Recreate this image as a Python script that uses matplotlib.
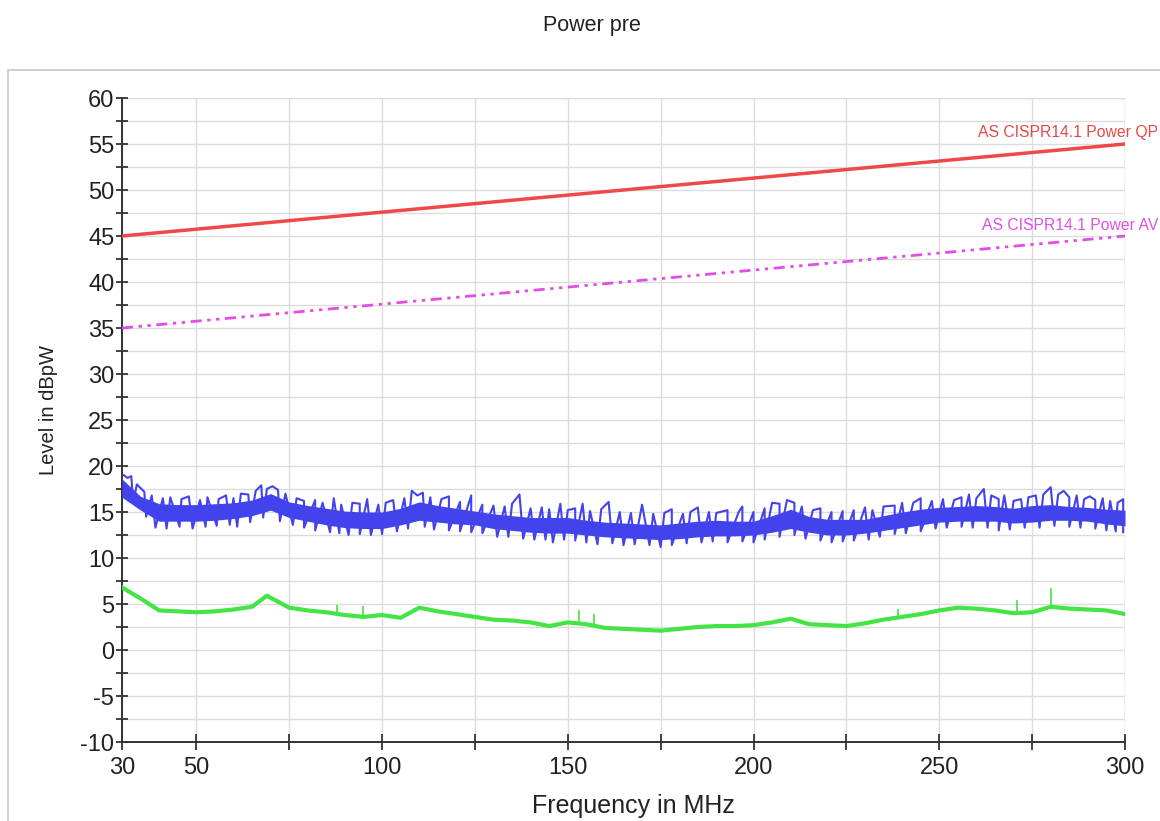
import matplotlib
matplotlib.use("Agg")
from matplotlib import pyplot as plt
from matplotlib.patches import Rectangle
import numpy as np

plt.rcParams['font.family'] = ['Liberation Sans', 'DejaVu Sans']
plt.rcParams['axes.unicode_minus'] = False

# limit lines (frequency in MHz, level in dBpW)
limit_freq = [30, 300]
qp_limit = [45, 55]
av_limit = [35, 45]

# peak trace (blue): dense core of the noise band, read every 5 MHz
blue_freq = [30, 35, 40, 45, 50, 55, 60, 65, 70, 75, 80, 85, 90, 95, 100,
             105, 110, 115, 120, 125, 130, 135, 140, 145, 150, 155, 160, 165,
             170, 175, 180, 185, 190, 195, 200, 205, 210, 215, 220, 225, 230,
             235, 240, 245, 250, 255, 260, 265, 270, 275, 280, 285, 290, 295, 300]
blue_lo = [16.6, 15.2, 14.0, 14.0, 14.0, 14.1, 14.3, 14.6, 15.2, 14.4, 14.0,
           13.6, 13.3, 13.2, 13.2, 13.6, 14.1, 13.9, 13.7, 13.6, 13.2, 13.0,
           12.8, 12.7, 12.7, 12.5, 12.3, 12.2, 12.1, 12.0, 12.1, 12.3, 12.4,
           12.4, 12.5, 12.8, 13.2, 12.8, 12.5, 12.5, 12.7, 13.0, 13.3, 13.6,
           13.9, 14.0, 14.0, 14.0, 13.8, 13.9, 14.1, 14.1, 14.0, 13.7, 13.5]
blue_hi = [18.6, 16.7, 15.9, 15.8, 15.8, 15.9, 16.0, 16.3, 17.0, 16.1, 15.7,
           15.4, 15.1, 15.0, 15.0, 15.4, 16.1, 15.7, 15.4, 15.1, 14.8, 14.6,
           14.4, 14.4, 14.4, 14.1, 13.9, 13.8, 13.7, 13.6, 13.8, 14.0, 14.1,
           14.0, 14.0, 14.6, 15.3, 14.5, 14.2, 14.2, 14.2, 14.6, 15.0, 15.3,
           15.5, 15.6, 15.7, 15.6, 15.4, 15.7, 15.8, 15.6, 15.5, 15.3, 15.2]
# peaks above the band
blue_spike_f = [30.5, 31.5, 32.5, 34, 36, 38, 41, 43, 46, 48, 51, 53, 56, 58,
                60, 62, 64, 66, 67.5, 69, 70.5, 72, 74, 77, 79, 82, 84, 87, 89,
                92, 94, 96, 99, 101, 103, 106, 108, 109.5, 111, 113, 116, 118,
                121, 124, 127, 130, 133, 135, 137, 140, 143, 145, 148, 150, 152,
                154, 156, 159, 161, 164, 167, 170, 173, 176, 178, 181, 183, 185,
                188, 190, 193, 196, 197, 200, 203, 205, 207, 209, 211, 213, 216,
                218, 221, 224, 227, 230, 232, 235, 238, 240, 243, 245, 248, 251,
                254, 256, 258, 260, 262, 264, 266, 267.5, 270, 272, 274, 276,
                278, 280, 282, 283.5, 285, 287, 289, 290.5, 292, 294, 296, 298,
                299.5]
blue_spike_v = [19.0, 18.7, 18.9, 18.0, 17.2, 16.8, 16.5, 16.6, 16.4, 16.7,
                16.3, 16.6, 16.4, 16.8, 16.5, 17.0, 16.9, 17.3, 17.9, 17.5,
                17.8, 17.4, 17.0, 16.5, 16.2, 16.3, 16.0, 16.5, 15.8, 16.0,
                15.9, 16.4, 15.8, 16.0, 16.3, 16.5, 17.3, 16.8, 17.1, 16.6,
                16.4, 16.7, 16.1, 16.8, 15.8, 15.7, 15.6, 15.9, 16.9, 15.4,
                15.5, 15.3, 15.9, 15.2, 15.4, 15.9, 15.1, 15.3, 16.1, 15.0,
                14.9, 15.8, 14.8, 14.9, 15.3, 14.8, 15.0, 15.5, 15.0, 14.9,
                15.2, 15.0, 15.6, 15.0, 15.4, 16.0, 15.9, 16.3, 16.0, 15.6,
                15.2, 15.4, 15.0, 15.1, 15.2, 15.5, 15.2, 15.6, 15.7, 16.0,
                16.0, 16.5, 16.2, 16.4, 16.3, 16.6, 16.9, 16.5, 17.5, 16.8,
                16.4, 16.8, 16.2, 16.4, 16.6, 16.8, 16.9, 17.7, 16.9, 17.3,
                16.6, 16.8, 16.4, 16.7, 16.3, 16.5, 16.2, 16.0, 16.4]
# dips below the band
blue_dip_f = [33, 36.5, 39, 42, 45.5, 49, 52.5, 55.5, 59, 61, 64.5, 68, 72.5,
              76, 79, 82, 86, 88.5, 91, 94, 97, 100, 104, 107, 111.5, 114, 118,
              121, 124, 127, 131, 134, 138, 141, 144, 146, 149, 152, 155, 158,
              162, 165, 168, 172, 175, 178, 182, 186, 189, 193, 197, 200, 203,
              207, 211, 214, 218, 221, 224, 227, 231, 234, 238, 241, 245, 249,
              252, 256, 259, 263, 266, 269, 273, 277, 281, 285, 288, 292, 295,
              297.5, 299.5]
blue_dip_v = [16.0, 14.5, 13.3, 13.2, 13.4, 13.2, 13.4, 13.5, 13.6, 13.4, 13.9,
              14.4, 14.0, 13.6, 13.3, 13.0, 12.8, 12.7, 12.5, 12.6, 12.5, 12.6,
              12.9, 13.2, 13.4, 13.1, 13.0, 12.9, 12.8, 12.7, 12.3, 12.3, 12.1,
              12.0, 12.0, 11.7, 12.0, 11.9, 11.7, 11.5, 11.6, 11.4, 11.5, 11.4,
              11.2, 11.4, 11.6, 11.7, 11.8, 11.7, 11.8, 11.7, 12.0, 12.3, 12.5,
              12.1, 11.9, 11.7, 11.8, 11.9, 12.0, 12.3, 12.6, 12.7, 12.9, 13.2,
              13.3, 13.4, 13.3, 13.3, 13.0, 13.1, 13.3, 13.3, 13.5, 13.4, 13.3,
              13.2, 13.0, 12.9, 12.8]

# average trace (green)
green_freq = [30, 35, 40, 45, 50, 55, 60, 65, 69, 75, 80, 85, 90, 95, 100,
              105, 110, 115, 120, 125, 130, 135, 140, 145, 150, 155, 160, 165,
              170, 175, 180, 185, 190, 195, 200, 205, 210, 215, 220, 225, 230,
              235, 240, 245, 250, 255, 260, 265, 270, 275, 280, 285, 290, 295, 300]
green_val = [6.8, 5.6, 4.3, 4.2, 4.1, 4.2, 4.4, 4.7, 5.9, 4.6, 4.3, 4.1, 3.8,
             3.6, 3.8, 3.5, 4.6, 4.2, 3.9, 3.6, 3.3, 3.2, 3.0, 2.6, 3.0, 2.8,
             2.4, 2.3, 2.2, 2.1, 2.3, 2.5, 2.6, 2.6, 2.7, 3.0, 3.4, 2.8, 2.7,
             2.6, 2.9, 3.3, 3.6, 3.9, 4.3, 4.6, 4.5, 4.3, 4.0, 4.1, 4.7, 4.5,
             4.4, 4.3, 3.9]
green_spike_f = [88, 95, 153, 157, 239, 271, 280]
green_spike_v = [4.9, 4.8, 4.4, 3.9, 4.5, 5.4, 6.7]

fig = plt.figure(figsize=(11.6, 8.21), dpi=100)
W, H = 1160, 821

# light frame round the plot area
fig.patches.append(Rectangle((8 / W, 1 - 830 / H), 1170 / W, 760 / H,
                             transform=fig.transFigure, fill=False,
                             edgecolor='#c8c8c8', linewidth=1.2))

ax = fig.add_axes([122 / W, 1 - 742 / H, (1125 - 122) / W, (742 - 98) / H])

blue = '#4343ee'
green = '#44e444'

ax.plot(limit_freq, qp_limit, color='#f04848', lw=2.5, zorder=4)
ax.plot(limit_freq, av_limit, color='#e44de4', lw=2,
        linestyle=(0, (4, 2, 1.2, 2, 1.2, 2)), zorder=4)

# blue: solid core plus the peaks and dips joined in frequency order
ax.fill_between(blue_freq, blue_lo, blue_hi, color=blue, lw=0, zorder=3)
pk_f = np.array(blue_spike_f + blue_dip_f)
pk_v = np.array(blue_spike_v + blue_dip_v)
order = np.argsort(pk_f, kind='stable')
ax.plot(pk_f[order], pk_v[order], color=blue, lw=1.5, zorder=3)

ax.plot(green_freq, green_val, color=green, lw=3, zorder=3)
green_base = np.interp(green_spike_f, green_freq, green_val)
ax.vlines(green_spike_f, green_base, green_spike_v, color=green, lw=1.2, zorder=3)

ax.text(1158 / W, 1 - 133 / H, 'AS CISPR14.1 Power QP', transform=fig.transFigure,
        ha='right', va='center', fontsize=11.3, color='#e84848')
ax.text(1158 / W, 1 - 226 / H, 'AS CISPR14.1 Power AV', transform=fig.transFigure,
        ha='right', va='center', fontsize=11.3, color='#e050e0')

ax.set_xlim(30, 300)
ax.set_ylim(-10, 60)
ax.set_xticks([30, 50, 100, 150, 200, 250, 300])
ax.set_xticks(np.arange(75, 300, 50), minor=True)
ax.set_yticks(np.arange(-10, 61, 5))
ax.set_yticks(np.arange(-7.5, 60, 5), minor=True)
ax.tick_params(which='both', direction='inout', length=9, width=1.3,
               color='#333333', labelsize=17, labelcolor='#222222', pad=1)
ax.tick_params(axis='x', which='both', length=12, pad=5)

ax.grid(True, which='both', color='#dcdcdc', lw=1)
ax.axvline(300, color='#dcdcdc', lw=1, zorder=0)
ax.axhline(60, color='#dcdcdc', lw=1, zorder=0)
ax.set_axisbelow(True)
for s in ['top', 'right']:
    ax.spines[s].set_visible(False)
for s in ['left', 'bottom']:
    ax.spines[s].set_linewidth(1.4)
    ax.spines[s].set_color('#333333')

fig.text(592 / W, 1 - 25 / H, 'Power pre', ha='center', va='center',
         fontsize=15.5, color='#222222')
fig.text(633 / W, 1 - 806 / H, 'Frequency in MHz', ha='center', va='center',
         fontsize=18, color='#222222')
fig.text(48 / W, 1 - 410 / H, 'Level in dBpW', ha='center', va='center',
         rotation=90, fontsize=14.5, color='#222222')

fig.savefig('out.png', dpi=100)
